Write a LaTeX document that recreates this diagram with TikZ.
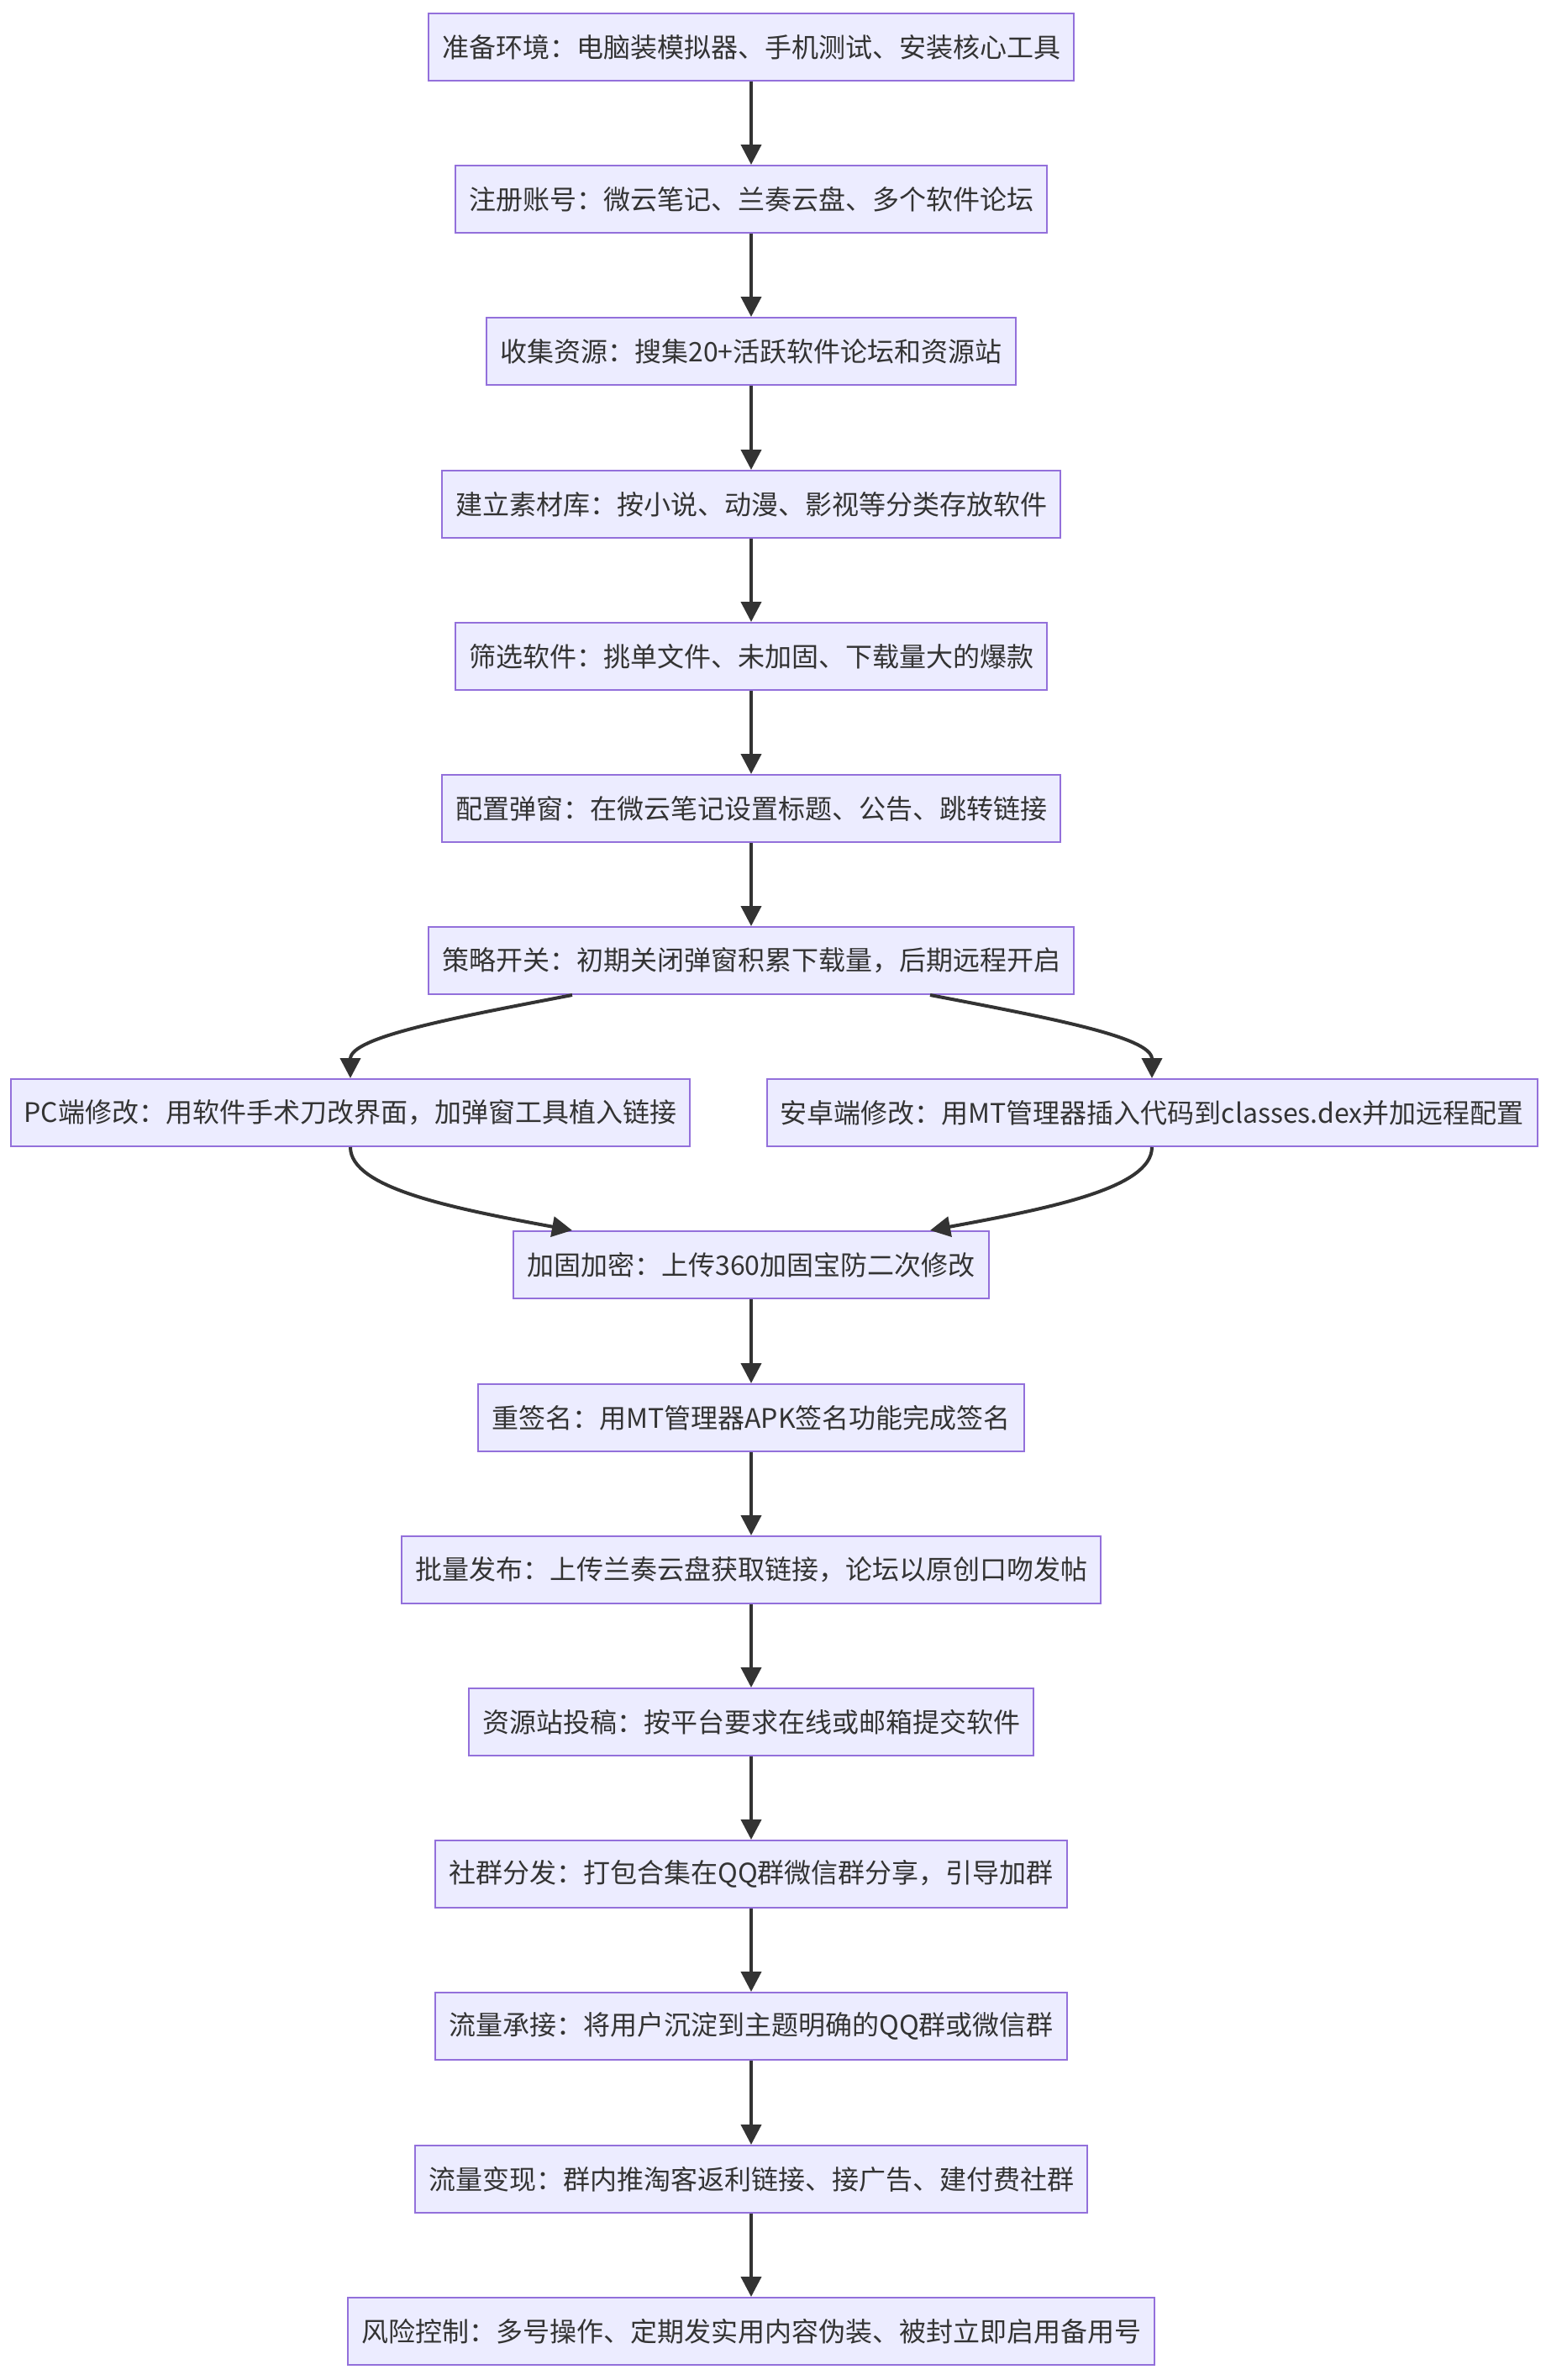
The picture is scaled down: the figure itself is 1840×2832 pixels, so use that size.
\documentclass[tikz,border=0pt]{standalone}
\usepackage{fontspec}
\newfontfamily\cjk{Noto Sans CJK SC}
\usetikzlibrary{arrows.meta,calc}
\definecolor{nodefill}{HTML}{ECECFF}
\definecolor{nodeline}{HTML}{9370DB}
\definecolor{ink}{HTML}{333333}
\begin{document}
\begin{tikzpicture}[x=0.5pt,y=-0.5pt,
  box/.style={draw=nodeline, fill=nodefill, line width=1pt, text=ink,
    font=\cjk\fontsize{16pt}{19pt}\selectfont, minimum height=40pt,
    inner xsep=8pt, inner ysep=0pt},
  arr/.style={draw=ink, line width=2pt, -{Triangle[length=12pt,width=12pt]}}]
\fill[white] (0,0) rectangle (1840,2832);
\useasboundingbox (0,0) rectangle (1840,2832);
\node[box] (n1) at (894,56) {准备环境：电脑装模拟器、手机测试、安装核心工具};
\node[box] (n2) at (894,237) {注册账号：微云笔记、兰奏云盘、多个软件论坛};
\node[box] (n3) at (894,418) {收集资源：搜集20+活跃软件论坛和资源站};
\node[box] (n4) at (894,600) {建立素材库：按小说、动漫、影视等分类存放软件};
\node[box] (n5) at (894,781) {筛选软件：挑单文件、未加固、下载量大的爆款};
\node[box] (n6) at (894,962) {配置弹窗：在微云笔记设置标题、公告、跳转链接};
\node[box] (n7) at (894,1143) {策略开关：初期关闭弹窗积累下载量，后期远程开启};
\node[box] (pc) at (417,1324) {PC端修改：用软件手术刀改界面，加弹窗工具植入链接};
\node[box] (an) at (1371,1324) {安卓端修改：用MT管理器插入代码到classes.dex并加远程配置};
\node[box] (n9) at (894,1505) {加固加密：上传360加固宝防二次修改};
\node[box] (n10) at (894,1687) {重签名：用MT管理器APK签名功能完成签名};
\node[box] (n11) at (894,1868) {批量发布：上传兰奏云盘获取链接，论坛以原创口吻发帖};
\node[box] (n12) at (894,2049) {资源站投稿：按平台要求在线或邮箱提交软件};
\node[box] (n13) at (894,2230) {社群分发：打包合集在QQ群微信群分享，引导加群};
\node[box] (n14) at (894,2411) {流量承接：将用户沉淀到主题明确的QQ群或微信群};
\node[box] (n15) at (894,2593) {流量变现：群内推淘客返利链接、接广告、建付费社群};
\node[box] (n16) at (894,2774) {风险控制：多号操作、定期发实用内容伪装、被封立即启用备用号};
\draw[arr] (n1.south) -- (n2.north);
\draw[arr] (n2.south) -- (n3.north);
\draw[arr] (n3.south) -- (n4.north);
\draw[arr] (n4.south) -- (n5.north);
\draw[arr] (n5.south) -- (n6.north);
\draw[arr] (n6.south) -- (n7.north);
\coordinate (s1) at ([xshift=-106.5pt]n7.south);
\coordinate (s2) at ([xshift=106.5pt]n7.south);
\coordinate (e1) at ([xshift=-106.5pt]n9.north);
\coordinate (e2) at ([xshift=106.5pt]n9.north);
\draw[arr] (s1) .. controls ($(s1)+(-141,27)$) and ($(pc.north)+(0,-49)$) .. (pc.north);
\draw[arr] (s2) .. controls ($(s2)+(141,27)$) and ($(an.north)+(0,-49)$) .. (an.north);
\draw[arr] (pc.south) .. controls ($(pc.south)+(0,49)$) and ($(e1)+(-141,-26)$) .. (e1);
\draw[arr] (an.south) .. controls ($(an.south)+(0,49)$) and ($(e2)+(141,-26)$) .. (e2);
\draw[arr] (n9.south) -- (n10.north);
\draw[arr] (n10.south) -- (n11.north);
\draw[arr] (n11.south) -- (n12.north);
\draw[arr] (n12.south) -- (n13.north);
\draw[arr] (n13.south) -- (n14.north);
\draw[arr] (n14.south) -- (n15.north);
\draw[arr] (n15.south) -- (n16.north);
\end{tikzpicture}
\end{document}
